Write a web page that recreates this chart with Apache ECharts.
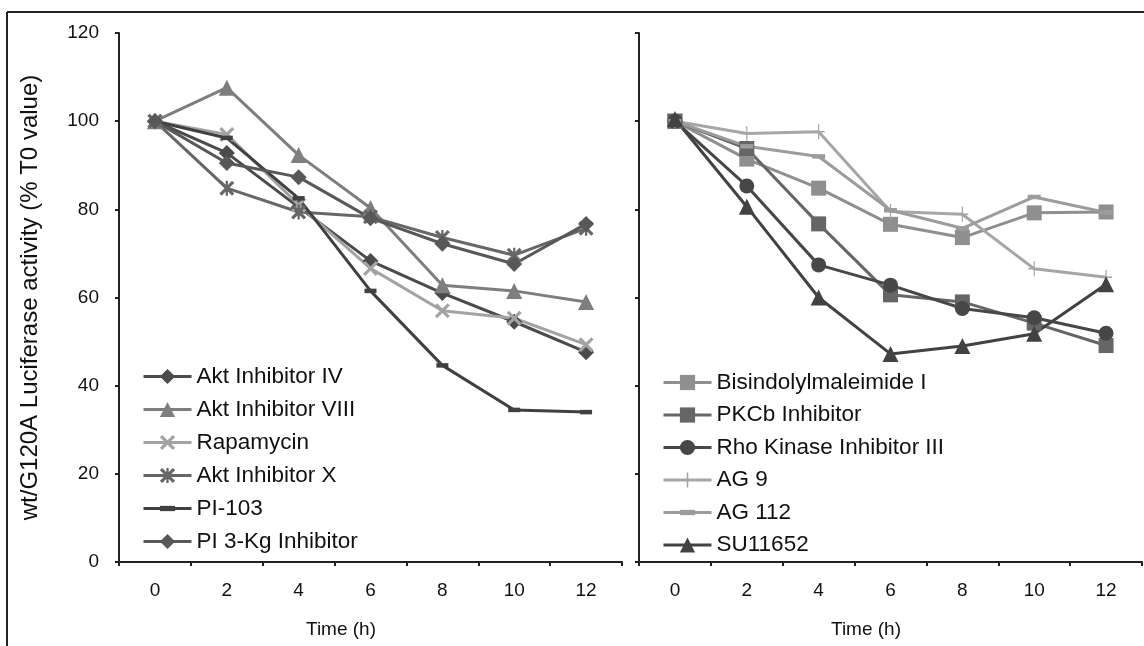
<!DOCTYPE html>
<html>
<head>
<meta charset="utf-8">
<script src="https://cdn.jsdelivr.net/npm/echarts@6/dist/echarts.min.js"></script>
<style>
html,body{margin:0;padding:0;background:#fff;}
#c{width:1144px;height:646px;}
</style>
</head>
<body>
<div id="c"></div>
<script>
// ---- data ----
const timeLabels = ['0', '2', '4', '6', '8', '10', '12'];
const yTicks = [0, 20, 40, 60, 80, 100, 120];

// left panel
const aktInhibitorIV   = [100, 92.8, 80.5, 68.3, 61.0, 54.5, 47.6];
const aktInhibitorVIII = [100, 107.6, 92.3, 80.3, 62.8, 61.5, 59.0];
const rapamycin        = [100, 97.0, 81.0, 66.6, 57.0, 55.3, 49.3];
const aktInhibitorX    = [100, 84.8, 79.4, 78.3, 73.6, 69.6, 75.7];
const pi103            = [100, 96.2, 82.5, 61.5, 44.6, 34.5, 34.0];
const pi3KgInhibitor   = [100, 90.5, 87.3, 78.0, 72.2, 67.6, 76.7];

// right panel
const bisindolylmaleimideI = [100, 91.4, 84.8, 76.6, 73.6, 79.2, 79.4];
const pkcbInhibitor        = [100, 93.8, 76.7, 60.6, 59.0, 54.2, 49.1];
const rhoKinaseInhibitorIII= [100, 85.3, 67.4, 62.8, 57.5, 55.4, 51.9];
const ag9                  = [100, 97.2, 97.6, 79.5, 78.9, 66.5, 64.6];
const ag112                = [100, 94.3, 92.0, 79.8, 75.7, 82.8, 79.3];
const su11652              = [100.5, 80.6, 60.0, 47.2, 49.0, 51.8, 63.0];

const leftNames = ['Akt Inhibitor IV', 'Akt Inhibitor VIII', 'Rapamycin', 'Akt Inhibitor X', 'PI-103', 'PI 3-Kg Inhibitor'];
const rightNames = ['Bisindolylmaleimide I', 'PKCb Inhibitor', 'Rho Kinase Inhibitor III', 'AG 9', 'AG 112', 'SU11652'];

// ---- styles ----
const FONT = 'Liberation Sans, Arial, sans-serif';
const X_PATH = 'path://M0,3 L3,0 L10,7 L17,0 L20,3 L13,10 L20,17 L17,20 L10,13 L3,20 L0,17 L7,10 Z';
const AST_PATH = 'path://M0,3 L3,0 L10,7 L17,0 L20,3 L13,10 L20,17 L17,20 L10,13 L3,20 L0,17 L7,10 Z M8.5,0 L11.5,0 L11.5,20 L8.5,20 Z';
const PLUS_PATH = 'path://M9,0 L11,0 L11,9 L20,9 L20,11 L11,11 L11,20 L9,20 L9,11 L0,11 L0,9 L9,9 Z';
// dash: a 26x9 bar inside a 26x26 (invisible) box so it keeps its shape in the legend too
const DASH_PATH = 'path://M0,8.5 L26,8.5 L26,17.5 L0,17.5 Z M0,0 L0,0 M26,26 L26,26';

function mk(name, data, color, symbol, size, idx) {
  return {
    name: name, type: 'line', data: data,
    xAxisIndex: idx, yAxisIndex: idx,
    symbol: symbol, symbolSize: size, showSymbol: true,
    symbolKeepAspect: false,
    lineStyle: {color: color, width: 3},
    itemStyle: {color: color, borderWidth: 0},
    emphasis: {disabled: true},
    animation: false, z: 3
  };
}

const series = [
  mk(leftNames[0], aktInhibitorIV,   '#4b4b4b', 'diamond', 16, 0),
  mk(leftNames[1], aktInhibitorVIII, '#7e7e7e', 'triangle', 16, 0),
  mk(leftNames[2], rapamycin,        '#a3a3a3', X_PATH, 15, 0),
  mk(leftNames[3], aktInhibitorX,    '#676767', AST_PATH, 15, 0),
  mk(leftNames[4], pi103,            '#404040', DASH_PATH, [12, 13], 0),
  mk(leftNames[5], pi3KgInhibitor,   '#585858', 'diamond', 16, 0),
  mk(rightNames[0], bisindolylmaleimideI, '#8f8f8f', 'rect', 15, 1),
  mk(rightNames[1], pkcbInhibitor,        '#666666', 'rect', 15, 1),
  mk(rightNames[2], rhoKinaseInhibitorIII,'#474747', 'circle', 15, 1),
  mk(rightNames[3], ag9,                  '#a6a6a6', PLUS_PATH, [12, 15], 1),
  mk(rightNames[4], ag112,                '#9c9c9c', DASH_PATH, [13, 13], 1),
  mk(rightNames[5], su11652,              '#424242', 'triangle', 16, 1)
];

const axisLine = {show: true, lineStyle: {color: '#222', width: 2}};
const axisTick = {show: true, inside: false, length: 4, lineStyle: {color: '#222', width: 2}};

function xAx(idx) {
  return {
    type: 'category', gridIndex: idx, data: timeLabels, boundaryGap: true,
    axisLine: axisLine, axisTick: axisTick,
    axisLabel: {color: '#111', fontSize: 19, fontFamily: FONT, margin: 19},
    splitLine: {show: false}
  };
}
function yAx(idx, showLabels) {
  const o = {
    type: 'value', gridIndex: idx, min: yTicks[0], max: yTicks[yTicks.length - 1], interval: 20,
    axisLine: axisLine, axisTick: axisTick,
    axisLabel: {show: showLabels, color: '#111', fontSize: 19, fontFamily: FONT, margin: 20},
    splitLine: {show: false}
  };
  if (showLabels) {
    o.name = 'wt/G120A Luciferase activity (% T0 value)';
    o.nameLocation = 'middle';
    o.nameGap = 77;
    o.nameRotate = 90;
    o.nameTextStyle = {color: '#111', fontSize: 24, fontFamily: FONT};
  }
  return o;
}

const legendText = {color: '#111', fontSize: 22.5, fontFamily: FONT};

const option = {
  backgroundColor: '#fff',
  animation: false,
  grid: [
    {left: 119, right: 522, top: 33, bottom: 84, containLabel: false},
    {left: 639, right: 2, top: 33, bottom: 84, containLabel: false}
  ],
  xAxis: [xAx(0), xAx(1)],
  yAxis: [yAx(0, true), yAx(1, false)],
  legend: [
    {data: leftNames, orient: 'vertical', left: 142, top: 365, itemWidth: 48, itemHeight: 19,
     itemGap: 10, textStyle: legendText, selectedMode: false, padding: 0,
     lineStyle: {width: 3}, symbolKeepAspect: true},
    {data: rightNames, orient: 'vertical', left: 662, top: 371, itemWidth: 48, itemHeight: 19,
     itemGap: 9.5, textStyle: legendText, selectedMode: false, padding: 0,
     lineStyle: {width: 3}, symbolKeepAspect: true}
  ],
  graphic: [
    {type: 'line', shape: {x1: 7, y1: 12, x2: 1144, y2: 12}, style: {stroke: '#222', lineWidth: 2}},
    {type: 'line', shape: {x1: 7, y1: 12, x2: 7, y2: 646}, style: {stroke: '#222', lineWidth: 2}},
    {type: 'text', left: 306, top: 620, style: {text: 'Time (h)', fill: '#111', font: '19px ' + FONT}},
    {type: 'text', left: 831, top: 620, style: {text: 'Time (h)', fill: '#111', font: '19px ' + FONT}}
  ],
  series: series
};

const chart = echarts.init(document.getElementById('c'), null, {renderer: 'canvas'});
chart.setOption(option);
</script>
</body>
</html>
